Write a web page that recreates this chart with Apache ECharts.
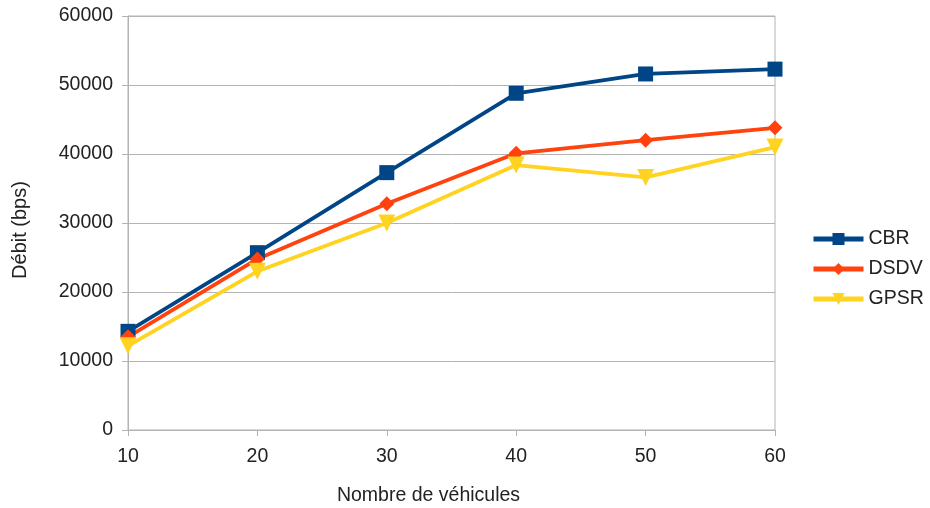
<!DOCTYPE html>
<html>
<head>
<meta charset="utf-8">
<script src="https://cdn.jsdelivr.net/npm/echarts@6/dist/echarts.min.js"></script>
<style>
  html, body { margin: 0; padding: 0; background: #fff; }
  #chart { width: 930px; height: 508px; }
</style>
</head>
<body>
<div id="chart"></div>
<script>
const categories = ['10', '20', '30', '40', '50', '60']
const cbr = [14300, 25700, 37300, 48800, 51600, 52300]
const dsdv = [13500, 24800, 32800, 40100, 42000, 43800]
const gpsr = [12200, 23000, 30000, 38400, 36600, 41000]

const textColor = '#222'
const gridColor = '#b3b3b3'
const fontSize = 19.5

const chart = echarts.init(document.getElementById('chart'))

function line(name, data, color, symbol, size, rotate) {
  return {
    name,
    type: 'line',
    data,
    symbol,
    symbolSize: size,
    symbolRotate: rotate || 0,
    lineStyle: { width: 3.8, color },
    itemStyle: { color },
    animation: false
  }
}

chart.setOption({
  textStyle: { fontFamily: 'Liberation Sans' },
  grid: {
    left: 128,
    right: 155,
    top: 16,
    bottom: 78,
    outerBoundsMode: 'none',
    show: true,
    borderColor: gridColor,
    borderWidth: 1
  },
  legend: {
    orient: 'vertical',
    left: 806,
    top: 224,
    itemWidth: 50,
    itemHeight: 15,
    itemGap: 10,
    lineStyle: { width: 5 },
    textStyle: { fontSize: fontSize, color: textColor },
    data: ['CBR', 'DSDV', 'GPSR']
  },
  xAxis: {
    type: 'category',
    data: categories,
    boundaryGap: false,
    name: 'Nombre de véhicules',
    nameLocation: 'middle',
    nameGap: 56,
    nameTextStyle: { fontSize: 19.5, color: textColor, padding: [0, 46, 0, 0] },
    axisLine: { lineStyle: { color: gridColor } },
    axisTick: { show: true, alignWithLabel: true, length: 6, lineStyle: { color: gridColor } },
    axisLabel: { fontSize: fontSize, color: textColor, margin: 17 },
    splitLine: { show: false }
  },
  yAxis: {
    type: 'value',
    min: 0,
    max: 60000,
    interval: 10000,
    name: 'Débit (bps)',
    nameLocation: 'middle',
    nameGap: 98,
    nameTextStyle: { fontSize: 20, color: textColor, padding: [0, 14, 0, 0] },
    axisLine: { show: true, lineStyle: { color: gridColor } },
    axisTick: { show: true, length: 6, lineStyle: { color: gridColor } },
    axisLabel: {
      fontSize: fontSize,
      color: textColor,
      margin: 15,
      formatter: v => String(v)
    },
    splitLine: { lineStyle: { color: gridColor } }
  },
  series: [
    line('CBR', cbr, '#004586', 'rect', 15),
    line('DSDV', dsdv, '#ff420e', 'diamond', 15),
    line('GPSR', gpsr, '#ffd320', 'triangle', 17, 180)
  ]
})
</script>
</body>
</html>
